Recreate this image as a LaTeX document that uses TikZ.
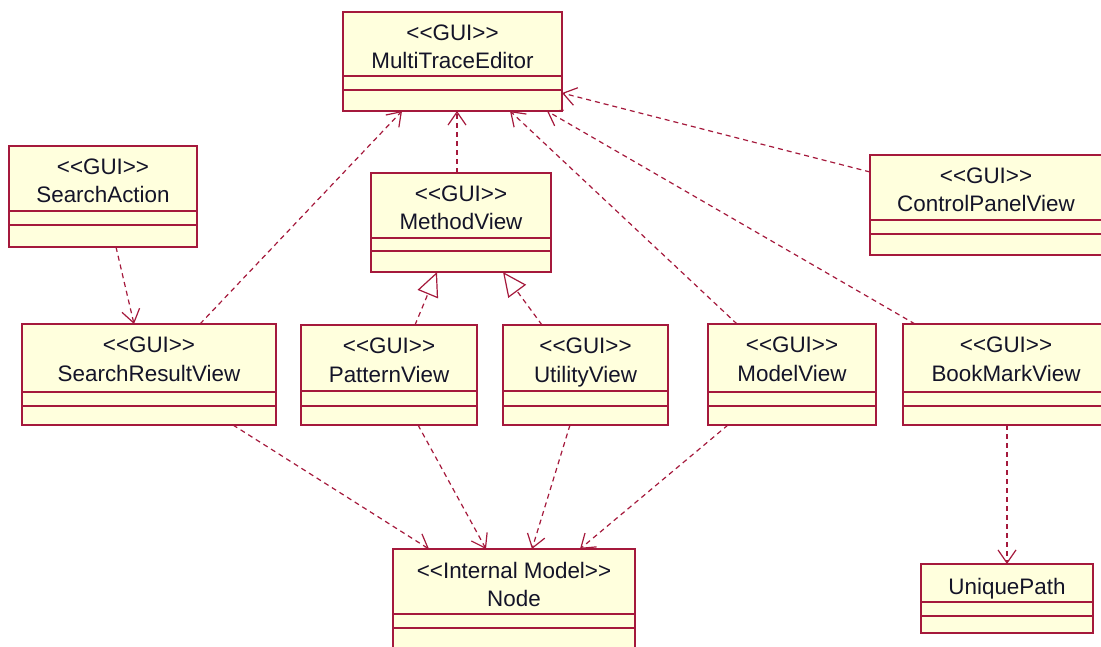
\documentclass[tikz,border=0pt]{standalone}
\usepackage{fontspec}
\setmainfont{Liberation Sans}[Ligatures=TeXOff]
\usetikzlibrary{arrows.meta}
\definecolor{umlred}{RGB}{165,25,60}
\definecolor{umlfill}{RGB}{255,255,221}
\definecolor{umltext}{RGB}{20,20,40}
\tikzset{
  cbox/.style={draw=umlred, fill=umlfill, line width=1.6pt, inner sep=0pt, outer sep=0pt, anchor=north west},
  sepline/.style={draw=umlred, line width=1.6pt},
  txt/.style={font=\fontsize{22.4}{26}\selectfont, text=umltext, inner sep=0pt, anchor=base},
  dep/.style={draw=umlred, line width=1.2pt, dash pattern=on 5pt off 4pt,
    -{Straight Barb[length=13pt,width=18pt,line width=1.2pt]}},
  real/.style={draw=umlred, line width=1.2pt, dash pattern=on 5pt off 4pt,
    -{Triangle[length=24pt,width=22pt,line width=1.2pt,fill=white]}},
}
\newcommand\classbox[7]{%
  \node[cbox, minimum width=#4pt, minimum height=#5pt] (#1) at (#2,#3) {};
  \draw[sepline] ([yshift=-#6pt]#1.north west) -- ([yshift=-#6pt]#1.north east);
  \draw[sepline] ([yshift=-#7pt]#1.north west) -- ([yshift=-#7pt]#1.north east);
}
\newcommand\twolines[3]{%
  \node[txt] (#1-st) at ([yshift=-28.5pt]#1.north) {#2};
  \node[txt] (#1-nm) at ([yshift=-57pt]#1.north) {#3};
}
\begin{document}
\begin{tikzpicture}[x=1pt,y=-1pt]
  \useasboundingbox (0,0) rectangle (1101,647);
  \fill[white] (0,0) rectangle (1101,647);

  % class boxes
  \classbox{mte}{343}{12}{219}{99}{64}{78}
  \classbox{sa}{9}{146}{188}{101}{65}{79}
  \classbox{mv}{371}{173}{180}{99}{65}{78}
  \classbox{cpv}{870}{155}{245}{100}{65}{79}
  \classbox{srv}{22}{324}{254}{101}{68}{82}
  \classbox{pv}{301}{325}{176}{100}{66}{81}
  \classbox{uv}{503}{325}{165}{100}{66}{81}
  \classbox{modv}{708}{324}{168}{101}{68}{82}
  \classbox{bmv}{903}{324}{210}{101}{68}{82}
  \classbox{node}{393}{549}{242}{105}{65}{79}
  \classbox{up}{921}{564}{172}{69}{38}{52}

  % texts
  \twolines{mte}{<<GUI>>}{MultiTraceEditor}
  \twolines{sa}{<<GUI>>}{SearchAction}
  \twolines{mv}{<<GUI>>}{MethodView}
  \node[txt] (cpv-st) at ([yshift=-28.5pt]cpv.north west -| 986,0) {<<GUI>>};
  \node[txt] (cpv-nm) at ([yshift=-57pt]cpv.north west -| 986,0) {ControlPanelView};
  \twolines{srv}{<<GUI>>}{SearchResultView}
  \twolines{pv}{<<GUI>>}{PatternView}
  \twolines{uv}{<<GUI>>}{UtilityView}
  \twolines{modv}{<<GUI>>}{ModelView}
  \node[txt] (bmv-st) at ([yshift=-28.5pt]bmv.north west -| 1006,0) {<<GUI>>};
  \node[txt] (bmv-nm) at ([yshift=-57pt]bmv.north west -| 1006,0) {BookMarkView};
  \node[txt] (node-st) at ([yshift=-29pt]node.north) {<<Internal Model>>};
  \node[txt] (node-nm) at ([yshift=-57pt]node.north) {Node};
  \node[txt] (up-nm) at ([yshift=-30pt]up.north) {UniquePath};

  % dependencies to MultiTraceEditor
  \draw[dep] ([xshift=178pt]srv.north west) -- ([xshift=59pt]mte.south west);
  \draw[dep] ([xshift=86pt]mv.north west) -- ([xshift=114pt]mte.south west);
  \draw[dep] ([xshift=29pt]modv.north west) -- ([xshift=167pt]mte.south west);
  \draw[dep] ([xshift=12pt]bmv.north west) -- ([xshift=204pt]mte.south west);
  \draw[dep] ([yshift=-17pt]cpv.north west) -- ([yshift=-81pt]mte.north east);

  \draw[dep] ([xshift=107pt]sa.south west) -- ([xshift=112pt]srv.north west);

  % realizations
  \draw[real] ([xshift=114pt]pv.north west) -- ([xshift=66pt]mv.south west);
  \draw[real] ([xshift=39pt]uv.north west) -- ([xshift=132pt]mv.south west);

  % dependencies to Node
  \draw[dep] ([xshift=211pt]srv.south west) -- ([xshift=36pt]node.north west);
  \draw[dep] ([xshift=117pt]pv.south west) -- ([xshift=93pt]node.north west);
  \draw[dep] ([xshift=67pt]uv.south west) -- ([xshift=139pt]node.north west);
  \draw[dep] ([xshift=20pt]modv.south west) -- ([xshift=187pt]node.north west);

  \draw[dep] ([xshift=104pt]bmv.south west) -- ([xshift=86pt]up.north west);
\end{tikzpicture}
\end{document}
